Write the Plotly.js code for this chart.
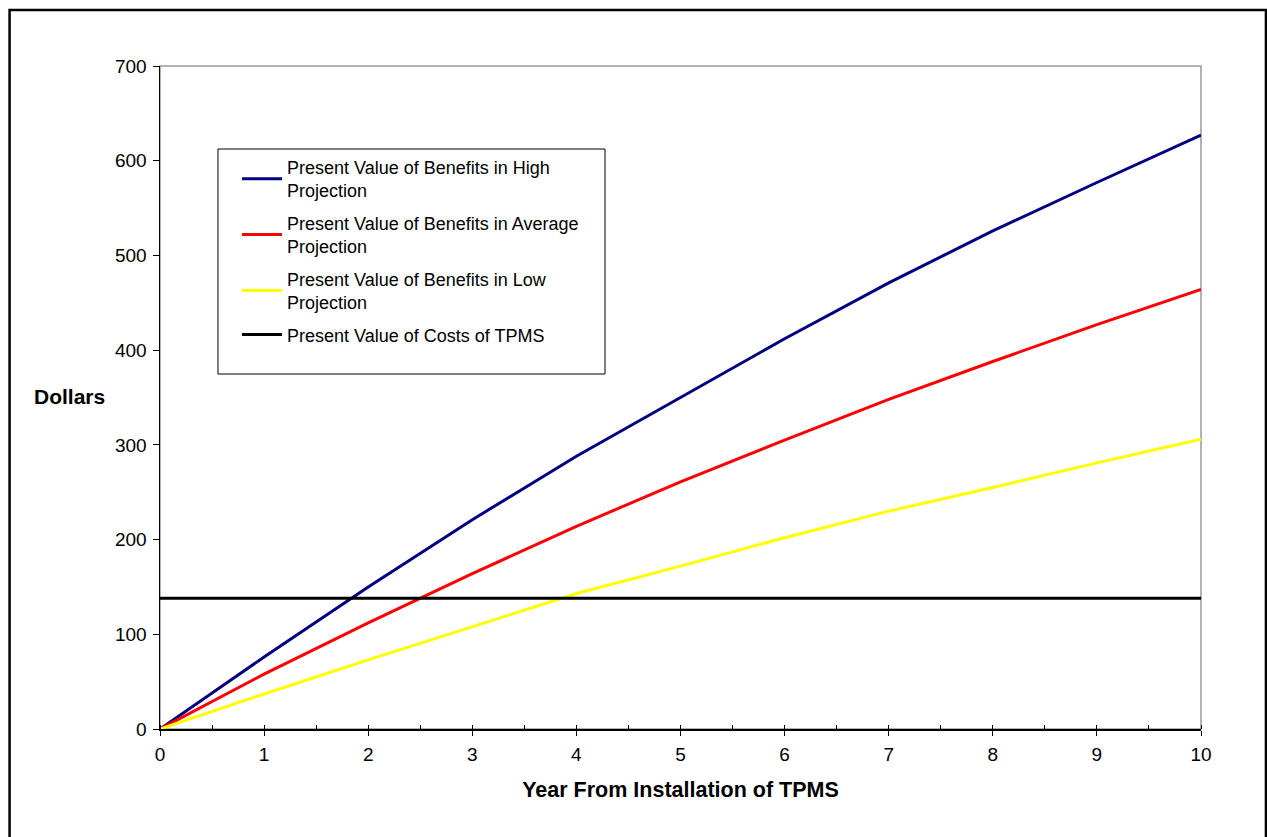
<!DOCTYPE html>
<html>
<head>
<meta charset="utf-8">
<script src="https://cdn.plot.ly/plotly-3.0.1.min.js"></script>
<style>
html,body{margin:0;padding:0;background:#fff;}
#chart{width:1267px;height:837px;}
</style>
</head>
<body>
<div id="chart"></div>
<script>
const years = [0, 1, 2, 3, 4, 5, 6, 7, 8, 9, 10];
const highBenefits = [0, 76, 150, 221, 288, 350, 412, 471, 526, 577, 627];
const avgBenefits = [0, 58, 112, 164, 214, 261, 305, 348, 388, 427, 464];
const lowBenefits = [0, 37, 73, 108, 143, 172, 202, 230, 255, 281, 306];
const costs = [138, 138, 138, 138, 138, 138, 138, 138, 138, 138, 138];
const seriesNames = [
  'Present Value of Benefits in High<br>Projection',
  'Present Value of Benefits in Average<br>Projection',
  'Present Value of Benefits in Low<br>Projection',
  'Present Value of Costs of TPMS'
];
const xTitle = 'Year From Installation of TPMS';
const yTitle = 'Dollars';

const font = 'Liberation Sans, Arial, sans-serif';
const colors = ['#000080', '#FF0000', '#FFFF00', '#000000'];
const ys = [highBenefits, avgBenefits, lowBenefits, costs];

const traces = ys.map((y, i) => ({
  x: years, y: y, type: 'scatter', mode: 'lines',
  name: seriesNames[i], legendgroup: 'g' + i,
  line: {color: colors[i], width: 3}
}));

const layout = {
  width: 1267, height: 837,
  margin: {l: 160, r: 66, t: 66, b: 108},
  paper_bgcolor: '#fff', plot_bgcolor: '#fff',
  font: {family: font, size: 18, color: '#000'},
  showlegend: true,
  legend: {
    x: 0.074, y: 0.875, xanchor: 'left', yanchor: 'top',
    bgcolor: 'rgba(0,0,0,0)', borderwidth: 0,
    font: {family: font, size: 18, color: '#000'},
    tracegroupgap: 6, itemwidth: 40
  },
  xaxis: {
    range: [0, 10], dtick: 1, tick0: 0,
    showgrid: false, zeroline: false,
    showline: true, linecolor: '#000', linewidth: 1.5,
    ticks: 'outside', ticklen: 5, tickcolor: '#000', tickwidth: 1,
    ticklabelstandoff: 3,
    minor: {dtick: 0.5, ticks: 'inside', ticklen: 4, tickcolor: '#000', showgrid: false},
    tickfont: {family: font, size: 19, color: '#000'},
    title: {text: xTitle, font: {family: font, size: 21.5, color: '#000', weight: 'bold'}, standoff: 17}
  },
  yaxis: {
    range: [0, 700], dtick: 100, tick0: 0,
    showgrid: false, zeroline: false,
    showline: true, linecolor: '#000', linewidth: 1.5,
    ticks: 'outside', ticklen: 6, tickcolor: '#000', tickwidth: 1,
    ticklabelstandoff: 2,
    tickfont: {family: font, size: 19, color: '#000'}
  },
  shapes: [
    {type: 'rect', xref: 'paper', yref: 'paper', x0: 0, x1: 1, y0: 0, y1: 1,
     line: {color: '#999', width: 1.5}, layer: 'below'},
    {type: 'rect', xref: 'paper', yref: 'paper', x0: 0.0557, x1: 0.4275, y0: 0.5354, y1: 0.8748,
     line: {color: '#000', width: 1}, fillcolor: '#fff', layer: 'below'},
    {type: 'rect', xref: 'paper', yref: 'paper', x0: -0.1445, x1: 1.0624, y0: -0.2, y1: 1.0845,
     line: {color: '#000', width: 2.5}, layer: 'above'}
  ],
  annotations: [
    {text: '<b>' + yTitle + '</b>', xref: 'paper', yref: 'paper', x: -0.0865, y: 0.5008,
     showarrow: false, font: {family: font, size: 21, color: '#000'}, xanchor: 'center', yanchor: 'middle'}
  ]
};

Plotly.newPlot('chart', traces, layout, {displayModeBar: false, staticPlot: true});
</script>
</body>
</html>
